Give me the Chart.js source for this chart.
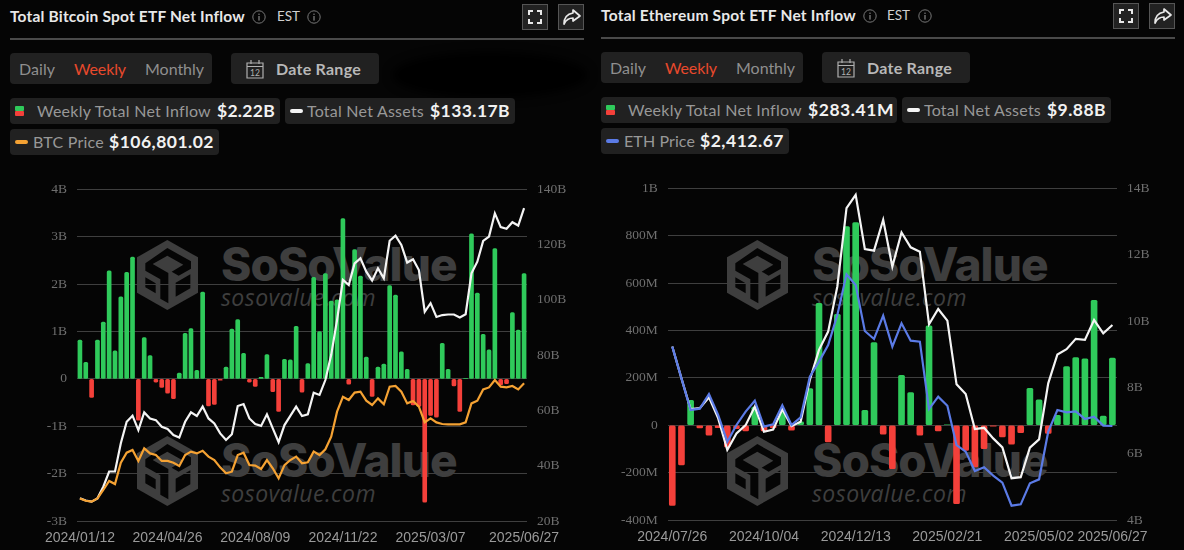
<!DOCTYPE html>
<html>
<head>
<meta charset="utf-8">
<title>Spot ETF Net Inflow</title>
<script src="https://cdn.jsdelivr.net/npm/chart.js@4/dist/chart.umd.min.js"></script>
<style>
  html,body{margin:0;padding:0;background:#050505;overflow:hidden}
  #page{position:relative;width:1184px;height:550px;background:#050505;font-family:Lato,"Noto Sans",sans-serif;overflow:hidden}
  #page canvas{position:absolute;top:170px}
  .t{position:absolute;white-space:nowrap;line-height:1}
  .box{position:absolute;background:#212121;border-radius:4px}
  .blob{position:absolute;left:392px;top:52px;width:196px;height:46px;background:#000;border-radius:50%;filter:blur(5px)}
  .wm{position:absolute;color:#3e3e3e;white-space:nowrap;line-height:1}
  .wm.big{font-family:Inter,sans-serif;font-weight:800;font-size:46px;letter-spacing:-.95px}
  .wm.small{font-family:"Open Sans",sans-serif;font-style:italic;font-size:23px;letter-spacing:.45px}
  svg{position:absolute;overflow:visible}
</style>
</head>
<body>
<div id="page"><div class="blob"></div></div>
<script>
/* ---------- Data ---------- */
var btcWeeks = ['2024/01/12','2024/01/19','2024/01/26','2024/02/02','2024/02/09','2024/02/16','2024/02/23','2024/03/01','2024/03/08','2024/03/15','2024/03/22','2024/03/29','2024/04/05','2024/04/12','2024/04/19','2024/04/26','2024/05/03','2024/05/10','2024/05/17','2024/05/24','2024/05/31','2024/06/07','2024/06/14','2024/06/21','2024/06/28','2024/07/05','2024/07/12','2024/07/19','2024/07/26','2024/08/02','2024/08/09','2024/08/16','2024/08/23','2024/08/30','2024/09/06','2024/09/13','2024/09/20','2024/09/27','2024/10/04','2024/10/11','2024/10/18','2024/10/25','2024/11/01','2024/11/08','2024/11/15','2024/11/22','2024/11/29','2024/12/06','2024/12/13','2024/12/20','2024/12/27','2025/01/03','2025/01/10','2025/01/17','2025/01/24','2025/01/31','2025/02/07','2025/02/14','2025/02/21','2025/02/28','2025/03/07','2025/03/14','2025/03/21','2025/03/28','2025/04/04','2025/04/11','2025/04/18','2025/04/25','2025/05/02','2025/05/09','2025/05/16','2025/05/23','2025/05/30','2025/06/06','2025/06/13','2025/06/20','2025/06/27'];
var btcDateTicks = ['2024/01/12','2024/04/26','2024/08/09','2024/11/22','2025/03/07','2025/06/27'];
// weekly net inflow, $B
var btcInflow = [0.82,0.35,-0.39,0.82,1.2,2.28,0.59,1.73,2.25,2.57,-0.87,0.87,0.49,-0.07,-0.18,-0.3,-0.42,0.12,0.96,1.06,0.18,1.83,-0.57,-0.54,-0.03,0.25,1.05,1.25,0.54,-0.07,-0.16,0.03,0.51,-0.27,-0.69,0.41,0.4,1.11,-0.28,0.32,2.14,1.0,2.22,1.64,1.67,3.38,-0.11,2.73,2.17,0.46,-0.37,0.25,0.31,1.97,1.77,0.57,0.2,-0.55,-0.58,-2.6,-0.77,-0.81,0.75,0.2,-0.15,-0.69,0.01,3.06,1.81,0.94,0.61,2.75,-0.13,-0.1,1.4,1.03,2.22];
// total net assets, $B
var btcAssets = [28.2,27.4,27.0,28.2,32.4,37.9,37.9,48.1,55.9,58.1,52.9,59.3,57.1,56.5,54.1,53.3,51.1,50.2,55.9,59.3,58.0,61.4,57.1,55.3,51.7,49.3,51.4,61.6,62.3,57.1,55.1,54.4,58.6,53.5,48.5,54.7,58.0,61.4,58.0,58.6,66.4,65.6,71.0,80.1,92.7,107.2,105.4,113.2,115.0,110.2,107.0,111.4,107.8,121.4,123.2,119.9,113.5,114.7,110.8,95.7,98.8,93.8,94.5,94.7,94.7,93.6,94.8,109.6,113.8,121.3,122.9,131.3,126.3,125.7,128.1,126.9,133.17];
// BTC price, $
var btcPrice = [42600,41300,40800,42600,47300,52300,50600,62500,68100,69600,63500,70500,67700,66800,63500,63500,62500,60700,66800,68700,67700,69200,65900,64000,59900,56600,57500,66800,68100,61200,60900,59000,64000,59400,53800,61200,64000,65900,62200,62700,68700,66800,70000,77000,91000,99300,97500,101600,102100,97100,94700,98400,95100,104900,105300,102100,95600,96900,93800,85000,87300,85000,84100,83900,83900,83900,85000,95600,97100,103400,104500,108600,104900,104500,105300,103400,106801];
var btcInflowTicks = ['-3B','-2B','-1B','0','1B','2B','3B','4B'];
var btcAssetTicks = ['20B','40B','60B','80B','100B','120B','140B'];

var ethWeeks = ['2024/07/26','2024/08/02','2024/08/09','2024/08/16','2024/08/23','2024/08/30','2024/09/06','2024/09/13','2024/09/20','2024/09/27','2024/10/04','2024/10/11','2024/10/18','2024/10/25','2024/11/01','2024/11/08','2024/11/15','2024/11/22','2024/11/29','2024/12/06','2024/12/13','2024/12/20','2024/12/27','2025/01/03','2025/01/10','2025/01/17','2025/01/24','2025/01/31','2025/02/07','2025/02/14','2025/02/21','2025/02/28','2025/03/07','2025/03/14','2025/03/21','2025/03/28','2025/04/04','2025/04/11','2025/04/18','2025/04/25','2025/05/02','2025/05/09','2025/05/16','2025/05/23','2025/05/30','2025/06/06','2025/06/13','2025/06/20','2025/06/27'];
var ethDateTicks = ['2024/07/26','2024/10/04','2024/12/13','2025/02/21','2025/05/02','2025/06/27'];
// weekly net inflow, $M
var ethInflow = [-338,-168,105,-11,-42,-10,-92,-15,-24,77,-24,-10,63,-21,14,155,514,-70,468,838,855,63,349,-38,-183,211,138,-42,420,-24,2,-331,-106,-176,-99,-4,-49,-80,-31,156,107,-35,42,248,285,280,527,39,283.41];
// total net assets, $B
var ethAssets = [9.23,8.27,7.34,7.37,7.7,7.07,6.11,6.61,6.86,7.42,6.66,6.73,7.34,6.83,6.96,8.22,9.13,9.68,11.04,13.4,13.8,12.17,12.12,13.05,11.64,12.67,12.22,12.09,9.9,10.36,10.01,8.09,7.8,6.74,6.78,6.46,6.19,5.26,5.29,6.18,6.43,8.12,8.99,9.15,9.46,9.43,10.03,9.63,9.88];
// ETH price, $
var ethPrice = [3268,2927,2586,2600,2758,2532,2244,2424,2568,2686,2406,2431,2636,2424,2507,2945,3107,3286,3610,4048,3933,3437,3351,3603,3268,3520,3333,3322,2596,2729,2632,2208,2137,1928,1968,1878,1802,1554,1569,1795,1838,2352,2586,2561,2571,2489,2514,2417,2413];
var ethInflowTicks = ['-400M','-200M','0','200M','400M','600M','800M','1B'];
var ethAssetTicks = ['4B','6B','8B','10B','12B','14B'];

var C_GREEN = '#2fca5b', C_RED = '#f4403a', C_WHITE = '#f4f4f4', C_ORANGE = '#f5a233', C_BLUE = '#5b7be6';
var page = document.getElementById('page');

/* ---------- Page chrome helpers ---------- */
function box(x, y, w, h, bg){
  var d = document.createElement('div');
  d.className = 'box';
  d.style.cssText = 'left:'+x+'px;top:'+y+'px;width:'+w+'px;height:'+h+'px;'+(bg?'background:'+bg+';':'');
  page.appendChild(d);
  return d;
}
function txt(x, cy, s, size, color, weight, width){
  var d = document.createElement('div');
  d.className = 't';
  d.textContent = s;
  d.style.cssText = 'left:'+x+'px;top:'+(cy-size/2)+'px;font-size:'+size+'px;color:'+color+';font-weight:'+(weight||400)+';';
  page.appendChild(d);
  // stretch to the measured width of the reference
  if(width){ var w = d.getBoundingClientRect().width; d.style.letterSpacing = ((width-w)/s.length)+'px'; }
  return d;
}
function svg(x, y, w, h, inner, vb){
  var d = document.createElement('div');
  d.innerHTML = '<svg style="left:'+x+'px;top:'+y+'px" width="'+w+'" height="'+h+'" viewBox="'+(vb||('0 0 '+w+' '+h))+'">'+inner+'</svg>';
  page.appendChild(d.firstChild);
}
function info(cx, cy){
  svg(cx-7, cy-7, 14, 14, '<circle cx="7" cy="7" r="6.2" fill="none" stroke="#777" stroke-width="1"/><rect x="6.4" y="6" width="1.2" height="4.6" fill="#888"/><rect x="6.4" y="3.6" width="1.2" height="1.3" fill="#888"/>');
}
function swatch(x, y){
  box(x, y, 9, 5, C_GREEN).style.borderRadius = '1px';
  box(x, y+5, 9, 5, C_RED).style.borderRadius = '1px';
}
function dash(x, y, c){ box(x, y, 13, 4, c).style.borderRadius = '2px'; }

function watermark(logoX, textX, dy){
  var logo = '<path fill="#3e3e3e" d="M91 0L183 52V158L91 210L0 158V52Z"/>' +
    '<path fill="#050505" d="M91 24L162 64V86L125 107L104 95L139 74L91 47L47 72L94 99V190L70 176V118L25 92V70Z"/>' +
    '<path fill="#050505" d="M25 112L56 130V160L25 142ZM116 128L160 103V145L116 170Z"/>';
  svg(logoX, 240+dy, 61, 70, logo, '0 0 183 210');
  var a = document.createElement('div');
  a.className = 'wm big'; a.textContent = 'SoSoValue';
  a.style.left = textX+'px'; a.style.top = (241+dy)+'px';
  page.appendChild(a);
  var b = document.createElement('div');
  b.className = 'wm small'; b.textContent = 'sosovalue.com';
  b.style.left = textX+'px'; b.style.top = (286+dy)+'px';
  page.appendChild(b);
}

/* ---------- Header of one panel ---------- */
function header(o){
  var ox = o.ox, oy = o.oy;
  txt(ox+10, 17+oy, o.title, 15.5, '#e8e8e8', 700, o.titleW);
  info(o.info1, 17+oy);
  txt(o.est, 17+oy, 'EST', 13.5, '#d0d0d0', 400, 23);
  info(o.info2, 17+oy);
  // fullscreen + share buttons
  var bx = o.btnX;
  [bx, bx+36].forEach(function(x){
    var b = box(x, 4+oy, 26, 26, '#222');
    b.style.borderRadius = '0'; b.style.border = '1px solid #555'; b.style.boxSizing = 'border-box';
  });
  svg(bx+6, 10+oy, 14, 14, '<path fill="none" stroke="#e8e8e8" stroke-width="2" d="M1 5V1H5M9 1H13V5M13 9V13H9M5 13H1V9"/>');
  svg(bx+40, 8+oy, 19, 18, '<path fill="none" stroke="#e8e8e8" stroke-width="1.7" stroke-linejoin="round" d="M11 2L18 8L11 13V10C7 10 4 12 2 16C2 10 5 6 11 5Z"/>');
  var line = box(ox+10, 38+oy, 574, 1.5, '#4a4a4a');
  line.style.borderRadius = '0';
  // period selector + date range
  box(ox+10, 53+oy, 202, 31);
  txt(ox+19, 68.5+oy, 'Daily', 16, '#8f8f8f', 400, 36);
  txt(ox+74, 68.5+oy, 'Weekly', 16, '#e8492c', 400, 52);
  txt(ox+145, 68.5+oy, 'Monthly', 16, '#8f8f8f', 400, 59);
  box(ox+231, 53+oy, 148, 31);
  svg(ox+246, 59+oy, 18, 20, '<path fill="none" stroke="#b0b0b0" stroke-width="1.2" d="M1 4H17V19H1ZM1 7.5H17M5 1V5M13 1V5"/><text x="9" y="16.5" text-anchor="middle" font-size="8.5" font-family="Lato" fill="#b0b0b0">12</text>');
  txt(ox+276, 68.5+oy, 'Date Range', 16, '#b8b8b8', 700, 85);
  // legend chips
  box(ox+10, 98+oy, o.chip1, 26);
  swatch(ox+15, 106+oy);
  txt(ox+37, 111+oy, 'Weekly Total Net Inflow', 16, '#989898', 400, 174);
  txt(ox+217, 111+oy, o.inflowVal, 17.5, '#f2f2f2', 700, o.inflowW);
  box(o.chip2X, 98+oy, o.chip2, 26);
  dash(o.chip2X+5, 109+oy, C_WHITE);
  txt(o.chip2X+22, 111+oy, 'Total Net Assets', 16, '#989898', 400, 117);
  txt(o.chip2X+145, 111+oy, o.assetVal, 17.5, '#f2f2f2', 700, o.assetW);
  box(ox+10, 129+oy, o.chip3, 26);
  dash(ox+15, 140+oy, o.priceColor);
  txt(ox+33, 142+oy, o.priceName, 16, '#989898', 400, 71);
  txt(ox+109, 142+oy, o.priceVal, 17.5, '#f2f2f2', 700, o.priceW);
}

/* ---------- Chart ---------- */
function drawChart(o){
  var el = document.createElement('canvas');
  el.width = o.w; el.height = 380;
  el.style.left = o.left+'px';
  el.style.width = o.w+'px'; el.style.height = '380px';
  page.appendChild(el);

  new Chart(el, {
    data:{
      labels:o.labels,
      datasets:[
        { type:'line', data:o.price, yAxisID:'yPrice', borderColor:o.priceColor, borderWidth:2.2, pointRadius:0, tension:0, order:1 },
        { type:'line', data:o.assets, yAxisID:'yAssets', borderColor:C_WHITE, borderWidth:2.2, pointRadius:0, tension:0, order:2 },
        { type:'bar', data:o.inflow, yAxisID:'yFlow', barThickness:o.barW, borderRadius:1.5, borderSkipped:false, order:3,
          backgroundColor:o.inflow.map(function(v){ return v>=0 ? C_GREEN : C_RED; }) }
      ]
    },
    options:{
      responsive:false, animation:false,
      layout:{ autoPadding:false, padding:{top:o.top} },
      events:[],
      plugins:{ legend:{display:false}, tooltip:{enabled:false} },
      scales:{
        x:{
          grid:{display:false}, border:{display:false},
          afterFit:function(s){ s.height = o.bottom; },
          ticks:{ autoSkip:false, maxRotation:0, padding:1, color:'#9a9a9a', font:{family:'"Liberation Sans"', size:14},
            callback:function(v){ var l = this.getLabelForValue(v); return o.dateTicks.indexOf(l)>=0 ? l : ''; } }
        },
        yFlow:{
          position:'left', min:o.flowMin, max:o.flowMax, ticks:{ stepSize:o.flowStep, padding:10, color:'#6f6f6f',
            font:{family:'"Liberation Serif"', size:13.5},
            callback:function(v,i){ return o.flowTicks[i]; } },
          grid:{ color:'#3f3f3f', lineWidth:1, drawTicks:false }, border:{display:false},
          afterFit:function(s){ s.width = o.leftW; }
        },
        yAssets:{
          position:'right', min:o.assetMin, max:o.assetMax, ticks:{ stepSize:o.assetStep, padding:10, color:'#6f6f6f',
            font:{family:'"Liberation Serif"', size:13.5},
            callback:function(v,i){ return o.assetTicks[i]; } },
          grid:{display:false, drawTicks:false}, border:{display:false},
          afterFit:function(s){ s.width = o.rightW; }
        },
        yPrice:{ display:false, position:'right', min:o.priceMin, max:o.priceMax }
      }
    }
  });
}

/* ---------- Build ---------- */
watermark(137, 221, 0); watermark(137, 221, 196);
watermark(727, 812, 0); watermark(727, 812, 196);

header({ ox:0, oy:0, title:'Total Bitcoin Spot ETF Net Inflow', titleW:235, info1:259, est:277, info2:314, btnX:522,
  chip1:270, inflowVal:'$2.22B', inflowW:58, chip2X:285, chip2:230, assetVal:'$133.17B', assetW:80,
  chip3:209, priceName:'BTC Price', priceVal:'$106,801.02', priceW:105, priceColor:C_ORANGE });
header({ ox:591, oy:-1, title:'Total Ethereum Spot ETF Net Inflow', titleW:255, info1:870, est:887, info2:925, btnX:1113,
  chip1:296, inflowVal:'$283.41M', inflowW:86, chip2X:902, chip2:209, assetVal:'$9.88B', assetW:59,
  chip3:188, priceName:'ETH Price', priceVal:'$2,412.67', priceW:84, priceColor:C_BLUE });

drawChart({ left:0, w:592, top:19.3, bottom:29, leftW:77, rightW:65, barW:4,
  labels:btcWeeks, dateTicks:btcDateTicks, inflow:btcInflow, assets:btcAssets, price:btcPrice, priceColor:C_ORANGE,
  flowMin:-3, flowMax:4, flowStep:1, flowTicks:btcInflowTicks,
  assetMin:20, assetMax:140, assetStep:20, assetTicks:btcAssetTicks, priceMin:30000, priceMax:215000 });
drawChart({ left:592, w:592, top:18.3, bottom:30, leftW:75.7, rightW:67, barW:6,
  labels:ethWeeks, dateTicks:ethDateTicks, inflow:ethInflow, assets:ethAssets, price:ethPrice, priceColor:C_BLUE,
  flowMin:-400, flowMax:1000, flowStep:200, flowTicks:ethInflowTicks,
  assetMin:4, assetMax:14, assetStep:2, assetTicks:ethAssetTicks, priceMin:1400, priceMax:4975 });
</script>
</body>
</html>
